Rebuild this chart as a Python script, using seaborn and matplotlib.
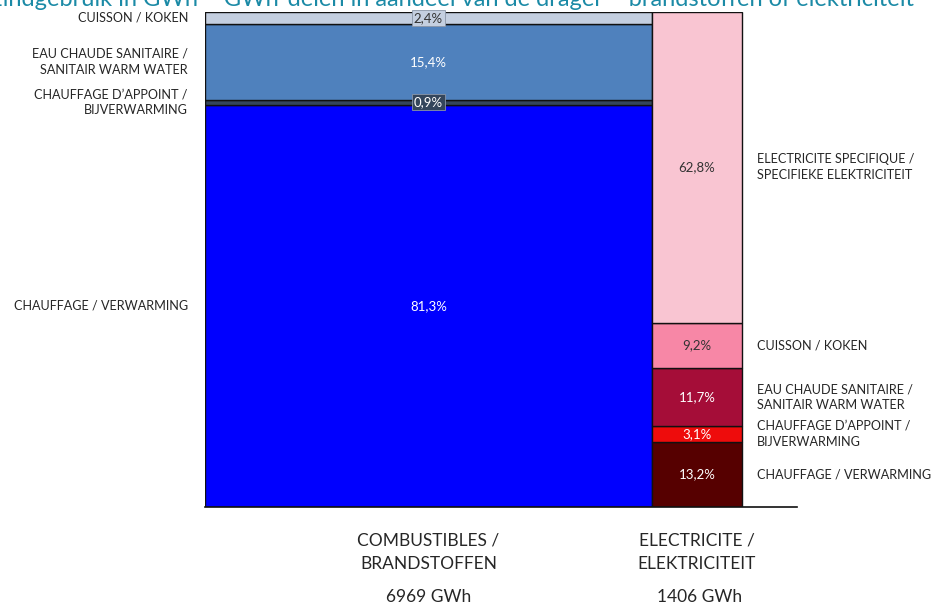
import matplotlib
matplotlib.use("Agg")
import matplotlib.pyplot as plt
import seaborn as sns

# Energy use per carrier (GWh) and share of each end use (%)
carriers = ["COMBUSTIBLES /\nBRANDSTOFFEN", "ELECTRICITE /\nELEKTRICITEIT"]
carrier_gwh = [6969, 1406]

fuel_uses = ["CHAUFFAGE / VERWARMING",
             "CHAUFFAGE D\u2019APPOINT /\nBIJVERWARMING",
             "EAU CHAUDE SANITAIRE /\nSANITAIR WARM WATER",
             "CUISSON / KOKEN"]
fuel_share = [81.3, 0.9, 15.4, 2.4]

elec_uses = ["CHAUFFAGE / VERWARMING",
             "CHAUFFAGE D\u2019APPOINT /\nBIJVERWARMING",
             "EAU CHAUDE SANITAIRE /\nSANITAIR WARM WATER",
             "CUISSON / KOKEN",
             "ELECTRICITE SPECIFIQUE /\nSPECIFIEKE ELEKTRICITEIT"]
elec_share = [13.2, 3.1, 11.7, 9.2, 62.8]

fuel_colors = ["#0000FF", "#34465C", "#4F81BD", "#C4CFE0"]
elec_colors = ["#560000", "#EE0C0C", "#A50D38", "#F787A6", "#F9C5D2"]
fuel_text = ["white", "white", "white", "#333333"]
elec_text = ["white", "white", "white", "#333333", "#333333"]
fuel_box = [None, "#34465C", None, "#C4CFE0"]

sns.set_theme(style="white")
plt.rcParams["font.family"] = ["Lato", "DejaVu Sans"]

fig = plt.figure(figsize=(9.37, 6.08), dpi=100)
ax = fig.add_axes([205 / 937, 101 / 608, 592 / 937, 495 / 608])

total = sum(carrier_gwh)
lefts = [0, carrier_gwh[0]]
ax.set_xlim(0, total * 592 / 537)
ax.set_ylim(0, 100)

label_col = "#262626"


def draw_stack(x0, width, shares, colors, tcolors, uses, side, boxes=None):
    bottom = 0
    for i, (s, c) in enumerate(zip(shares, colors)):
        ax.bar(x0, s, width=width, bottom=bottom, align="edge",
               color=c, edgecolor="#111111", linewidth=1.0, zorder=2)
        yc = bottom + s / 2
        box = boxes[i] if boxes else None
        bbox = None
        if box:
            bbox = dict(boxstyle="square,pad=0.15", fc=box, ec="#8A96A8", lw=0.6)
        ax.text(x0 + width / 2, yc, f"{s:.1f}%".replace(".", ","),
                ha="center", va="center", color=tcolors[i], fontsize=9.5,
                bbox=bbox, zorder=4)
        if side == "left":
            ax.annotate(uses[i], xy=(0, yc), xytext=(-17, 0),
                        textcoords="offset pixels", ha="right", va="center",
                        fontsize=9.1, color=label_col, linespacing=1.4,
                        annotation_clip=False)
        else:
            ax.annotate(uses[i], xy=(x0 + width, yc), xytext=(15, 0),
                        textcoords="offset pixels", ha="left", va="center",
                        fontsize=9.1, color=label_col, linespacing=1.4,
                        annotation_clip=False)
        bottom += s


draw_stack(lefts[0], carrier_gwh[0], fuel_share, fuel_colors, fuel_text,
           fuel_uses, "left", fuel_box)
draw_stack(lefts[1], carrier_gwh[1], elec_share, elec_colors, elec_text,
           elec_uses, "right")

# Carrier names and totals under each bar
for x0, w, name in zip(lefts, carrier_gwh, carriers):
    ax.annotate(name, xy=(x0 + w / 2, 0), xytext=(0, -45),
                textcoords="offset pixels", ha="center", va="center",
                fontsize=12.5, color=label_col, linespacing=1.6,
                annotation_clip=False)
    ax.annotate(f"{w} GWh", xy=(x0 + w / 2, 0), xytext=(3 if w < 2000 else 0, -90),
                textcoords="offset pixels", ha="center", va="center",
                fontsize=12.5, color=label_col, annotation_clip=False)

ax.set_xticks([])
ax.set_yticks([])
for sp in ["left", "right", "top"]:
    ax.spines[sp].set_visible(False)
ax.spines["bottom"].set_color("#111111")
ax.spines["bottom"].set_linewidth(1.2)

fig.text(-0.012, 1.0,
         "Eindgebruik in GWh \u2013 GWh-delen in aandeel van de drager \u2013 brandstoffen of elektriciteit",
         ha="left", va="center", fontsize=17, color="#1B8AA6")

fig.savefig("out.png", dpi=100)
